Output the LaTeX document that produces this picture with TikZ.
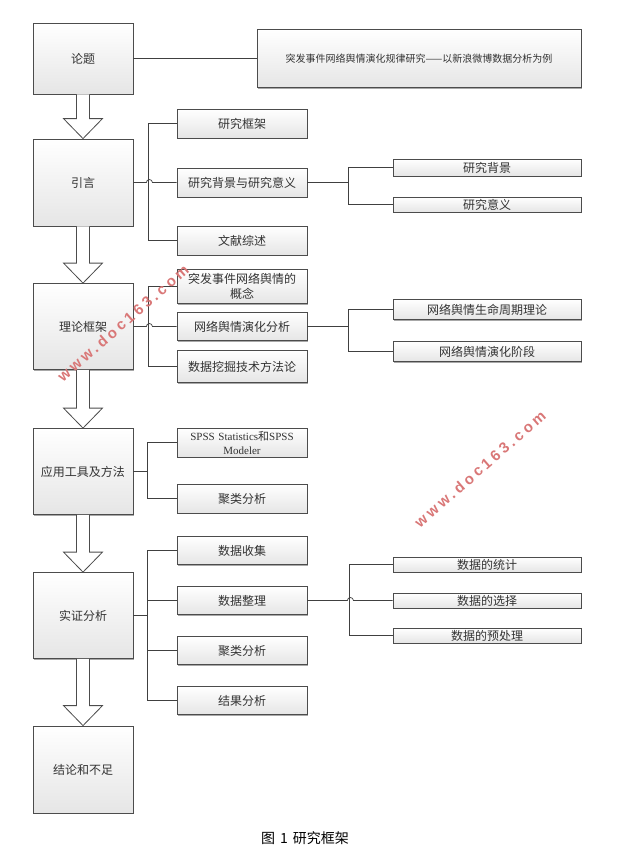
\documentclass[tikz,border=0pt]{standalone}
\usepackage{fontspec}
\setmainfont{Liberation Serif}
\newfontfamily\cjk{Noto Sans CJK SC}
\newfontfamily\wmfont[LetterSpace=22]{Liberation Sans}
\usetikzlibrary{calc,shadows}
\begin{document}
\begin{tikzpicture}[x=1pt,y=-1pt,
  box/.style={draw=gray!60!black, top color=white, bottom color=gray!20, line width=0.8pt,
    inner sep=0pt, align=center, font=\cjk\fontsize{12}{15}\selectfont, text=black!80,
    drop shadow={shadow xshift=1.3pt, shadow yshift=-1.3pt, fill=gray!75, opacity=0.9}},
  mainbox/.style={box, minimum width=100pt, minimum height=86pt},
  subbox/.style={box, minimum width=130pt, minimum height=29pt},
  rbox/.style={box, minimum width=188pt, minimum height=16pt},
  link/.style={draw=black!75, line width=0.7pt},
  barrow/.style={draw=gray!60!black, fill=white, line width=0.8pt, line join=miter},
  wm/.style={rotate=41, text=red!45!white!85!black, font=\wmfont\bfseries\fontsize{15}{17}\selectfont}
]
\useasboundingbox (0,0) rectangle (630,863);

% main column
\node[mainbox, minimum height=71pt] (t0) at (83,58.5) {论题};
\node[mainbox, minimum height=87pt] (t1) at (83,182.5) {引言};
\node[mainbox] (t2) at (83,326.5) {理论框架};
\node[mainbox] (t3) at (83,471.5) {应用工具及方法};
\node[mainbox] (t4) at (83,615.5) {实证分析};
\node[mainbox, minimum height=87pt] (t5) at (83,769.5) {结论和不足};

\node[box, minimum width=324pt, minimum height=58pt, font=\cjk\fontsize{10}{12}\selectfont] (title) at (419,58.5)
  {突发事件网络舆情演化规律研究——以新浪微博数据分析为例};

% second column
\node[subbox] (a1) at (242,123.5) {研究框架};
\node[subbox] (a2) at (242,182.5) {研究背景与研究意义};
\node[subbox] (a3) at (242,240.5) {文献综述};

\node[subbox, minimum height=34pt, text width=126pt, font=\cjk\fontsize{12}{15}\selectfont] (b1) at (242,286.5) {突发事件网络舆情的\\概念};
\node[subbox, minimum height=28pt] (b2) at (242,326.5) {网络舆情演化分析};
\node[subbox, minimum height=32pt] (b3) at (242,366.5) {数据挖掘技术方法论};

\node[subbox, text width=126pt, font=\rmfamily\fontsize{11}{14}\selectfont] (c1) at (242,442.5)
  {SPSS Statistics{\cjk 和}SPSS\\Modeler};
\node[subbox] (c2) at (242,498.5) {聚类分析};

\node[subbox, minimum height=28pt] (d1) at (242,550.5) {数据收集};
\node[subbox, minimum height=28pt] (d2) at (242,600.5) {数据整理};
\node[subbox, minimum height=28pt] (d3) at (242,650.5) {聚类分析};
\node[subbox, minimum height=28pt] (d4) at (242,700.5) {结果分析};

% third column
\node[rbox, minimum height=17pt] (r1) at (487,167.5) {研究背景};
\node[rbox, minimum height=15pt] (r2) at (487,204.5) {研究意义};
\node[rbox, minimum height=20pt] (s1) at (487,309.5) {网络舆情生命周期理论};
\node[rbox, minimum height=20pt] (s2) at (487,351.5) {网络舆情演化阶段};
\node[rbox, minimum height=15pt] (u1) at (487,564.5) {数据的统计};
\node[rbox, minimum height=15pt] (u2) at (487,600.5) {数据的选择};
\node[rbox, minimum height=15pt] (u3) at (487,635.5) {数据的预处理};

% connectors
\draw[link] (t0.east) -- (title.west);

\draw[link] (a1.west) -- ++(-28,0) |- (a3.west);
\draw[link] (t1.east) -- ++(13,0) arc[start angle=180, end angle=360, radius=3] -- (a2.west);
\draw[link] (a2.east) -- ++(42,0);
\draw[link] (r1.west) -- ++(-44,0) |- (r2.west);

\draw[link] (b1.west) -- ++(-28,0) |- (b3.west);
\draw[link] (t2.east) -- ++(13,0) arc[start angle=180, end angle=360, radius=3] -- (b2.west);
\draw[link] (b2.east) -- ++(42,0);
\draw[link] (s1.west) -- ++(-44,0) |- (s2.west);

\draw[link] (c1.west) -- ++(-29,0) |- (c2.west);
\draw[link] (t3.east) -- ++(15,0);

\draw[link] (d1.west) -- ++(-29,0) |- (d4.west);
\draw[link] (d2.west) -- ++(-29,0);
\draw[link] (d3.west) -- ++(-29,0);
\draw[link] (t4.east) -- ++(15,0);
\draw[link] (d2.east) -- ++(40,0) arc[start angle=180, end angle=360, radius=3] -- (u2.west);
\draw[link] (u1.west) -- ++(-43,0) |- (u3.west);

% block arrows
\foreach \a/\b in {t0/t1, t1/t2, t2/t3, t3/t4, t4/t5}{
  \draw[barrow] ($(\a.south)+(-6.5,0)$) -- ($(\b.north)+(-6.5,-20)$) -- ($(\b.north)+(-19.5,-20)$)
    -- (\b.north) -- ($(\b.north)+(19.5,-20)$) -- ($(\b.north)+(6.5,-20)$) -- ($(\a.south)+(6.5,0)$);
}

% watermarks
\node[wm] (w1) at (123,323) {www.doc163.com};
\node[wm] (w2) at (480,469) {www.doc163.com};

% caption
\node[font=\cjk\fontsize{14}{16}\selectfont] (cap) at (305,838) {图\hspace{5pt}1\hspace{5pt}研究框架};
\end{tikzpicture}
\end{document}
